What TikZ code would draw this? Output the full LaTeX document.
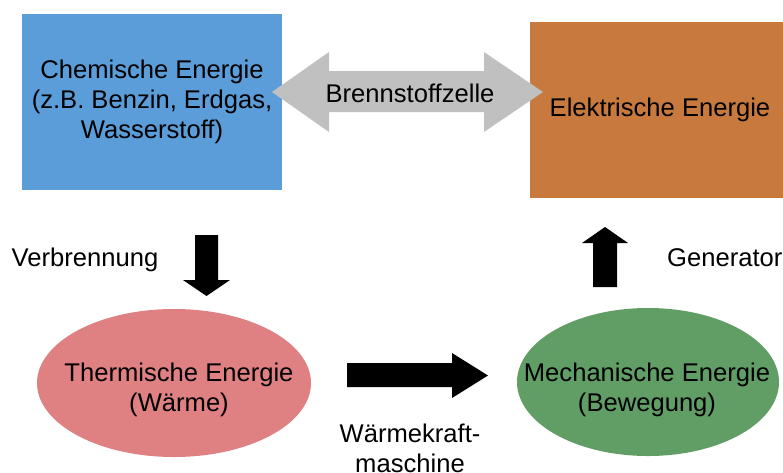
\documentclass[tikz,border=0pt]{standalone}
\usepackage{fontspec}
\setmainfont{Liberation Sans}
\usetikzlibrary{shapes.geometric}
\definecolor{chemblue}{RGB}{91,157,217}
\definecolor{elorange}{RGB}{200,122,62}
\definecolor{thermpink}{RGB}{223,128,130}
\definecolor{mechgreen}{RGB}{96,158,102}
\definecolor{arrowgray}{RGB}{192,192,192}
\tikzset{
  txt/.style={font=\fontsize{25.6}{30}\selectfont, inner sep=0pt, align=center, text=black},
  boxnode/.style={rectangle, draw=none, inner sep=0pt, txt},
  ellnode/.style={ellipse, draw=none, inner sep=0pt},
  blockarrow/.style={fill=black, draw=none},
}
\begin{document}
\begin{tikzpicture}[x=1pt, y=-1pt]
\useasboundingbox (0,0) rectangle (783,472);
% boxes
\node[boxnode, fill=chemblue, minimum width=260pt, minimum height=176pt] (chem) at (152,102)
  {Chemische Energie\\(z.B. Benzin, Erdgas,\\Wasserstoff)};
\node[boxnode, fill=elorange, minimum width=253pt, minimum height=176pt] (elek) at (656.5,110) {};
\node[txt] (elektxt) at (660,110) {Elektrische Energie};
% ellipses
\node[ellnode, fill=thermpink, minimum width=274pt, minimum height=148pt] (therm) at (174,383) {};
\node[txt] (thermtxt) at (179,390) {Thermische Energie\\(Wärme)};
\node[ellnode, fill=mechgreen, minimum width=262pt, minimum height=148pt] (mech) at (648,382) {};
\node[txt] (mechtxt) at (647,390) {Mechanische Energie\\(Bewegung)};
% double arrow (Brennstoffzelle)
\fill[arrowgray] (272,92) -- (329,52) -- (329,71) -- (484,71) -- (484,52) -- (543,92)
  -- (484,132) -- (484,112) -- (329,112) -- (329,132) -- cycle;
\node[txt] (bz) at (410,93) {Brennstoffzelle};
% down arrow (Verbrennung)
\fill[blockarrow] (195,235) -- (218,235) -- (218,280) -- (230,280) -- (206.5,296)
  -- (183,280) -- (195,280) -- cycle;
\node[txt] (verb) at (85,260) {Verbrennung};
% right arrow (Wärmekraftmaschine)
\fill[blockarrow] (347,363) -- (452,363) -- (452,353) -- (488,375.5) -- (452,398)
  -- (452,387) -- (347,387) -- cycle;
\node[txt] (wkm) at (410,448) {Wärmekraft-\\maschine};
% up arrow (Generator)
\fill[blockarrow] (593,287) -- (593,243) -- (582,243) -- (605,227) -- (628,243)
  -- (617,243) -- (617,287) -- cycle;
\node[txt, anchor=west] (gen) at (667,258) {Generator};
\end{tikzpicture}
\end{document}
